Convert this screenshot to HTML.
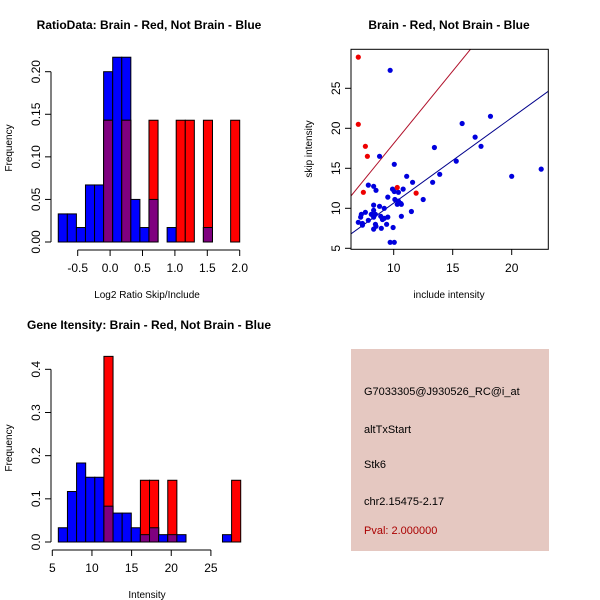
<!DOCTYPE html>
<html><head><meta charset="utf-8"><style>
body{margin:0;background:#fff}
svg{display:block;font-family:"Liberation Sans",sans-serif}
</style></head><body>
<svg id="s" width="600" height="600" viewBox="0 0 600 600">
<rect width="600" height="600" fill="#fff"/>
</svg>
<script>
// Panel 1: ratio histogram
const ratioStart = -0.80, ratioBinW = 0.14;
const ratioBlue = [0.033,0.033,0.017,0.067,0.067,0.20,0.217,0.217,0.05,0.017,0.05,0,0.017,0,0,0,0.017,0,0,0];
const ratioRed  = [0,0,0,0,0,0.143,0,0.143,0,0,0.143,0,0,0.143,0.143,0,0.143,0,0,0.143];
const ratioXTicks = [-0.5,0.0,0.5,1.0,1.5,2.0];
const ratioXLabels = ["-0.5","0.0","0.5","1.0","1.5","2.0"];
const ratioYTicks = [0,0.05,0.10,0.15,0.20];
const ratioYLabels = ["0.00","0.05","0.10","0.15","0.20"];
// Panel 3: intensity histogram
const intStart = 5.76, intBinW = 1.15;
const intBlue = [0.033,0.117,0.183,0.15,0.15,0.083,0.067,0.067,0.033,0.017,0.033,0.017,0.017,0.017,0,0,0,0,0.017,0];
const intRed  = [0,0,0,0,0,0.43,0,0,0,0.143,0.143,0,0.143,0,0,0,0,0,0,0.143];
const intXTicks = [5,10,15,20,25];
const intXLabels = ["5","10","15","20","25"];
const intYTicks = [0,0.1,0.2,0.3,0.4];
const intYLabels = ["0.0","0.1","0.2","0.3","0.4"];
// Panel 2: scatter
const redX = [7.0,7.0,7.6,7.77,7.43,10.3,11.9];
const redY = [28.9,20.5,17.75,16.5,12.0,12.6,11.9];
const blueX = [9.7,18.2,15.8,16.9,17.4,13.45,15.3,8.8,10.05,20.0,22.5,11.1,13.9,11.6,13.3,7.85,8.3,8.5,9.9,10.05,10.4,10.8,12.5,9.5,10.1,10.4,10.6,10.3,10.65,8.3,8.8,9.2,11.5,8.3,7.6,7.26,8.1,8.45,7.2,8.3,8.9,9.5,10.65,9.05,9.2,7.85,7.0,7.35,8.45,9.4,7.35,8.5,9.95,8.95,8.3,9.7,10.05];
const blueY = [27.25,21.5,20.6,18.9,17.75,17.6,15.9,16.5,15.5,14.0,14.9,14.0,14.25,13.25,13.25,12.9,12.75,12.25,12.4,12.1,12.0,12.4,11.1,11.4,11.1,10.9,10.6,10.5,10.5,10.4,10.25,10.0,9.6,9.75,9.5,9.25,9.25,9.25,8.9,8.9,9.0,8.9,9.0,8.6,8.75,8.5,8.25,8.1,8.0,8.0,7.9,7.75,7.6,7.5,7.4,5.75,5.75];
const redSlope = 1.81, blueSlope = 1.066;
const scXTicks = [10,15,20], scYTicks = [5,10,15,20,25];

const NS="http://www.w3.org/2000/svg", S=document.getElementById('s');
function mk(tag,a,parent){const e=document.createElementNS(NS,tag);for(const k in a)e.setAttribute(k,a[k]);(parent||S).appendChild(e);return e;}
function txt(x,y,t,a,parent){const e=mk('text',Object.assign({x:x,y:y,'font-size':12,'text-anchor':'middle',fill:'#000'},a||{}),parent);e.textContent=t;return e;}

function hist(o){
  const g=mk('g',{});
  
  
  const X=v=>o.x0+(v-o.xa)*o.xs, Y=v=>o.y0-v*o.ys;
  const t=txt(o.titleX,o.titleY,o.title,{'font-weight':'bold','font-size':12},g);
  
  
  for(let i=0;i<o.blue.length;i++){
    const l=X(o.start+i*o.bw), r=X(o.start+(i+1)*o.bw);
    const b=o.blue[i], rd=o.red[i];
    if(b>0){const e=mk('rect',{x:l,y:Y(b),width:r-l,height:Y(0)-Y(b),fill:'#0000ff',stroke:'#000','stroke-width':1},g);
      
      }
    if(rd>0){const e=mk('rect',{x:l,y:Y(rd),width:r-l,height:Y(0)-Y(rd),fill:'#ff0000',stroke:'#000','stroke-width':1},g);
      
      }
    const m=Math.min(b,rd);
    if(m>0){const e=mk('rect',{x:l,y:Y(m),width:r-l,height:Y(0)-Y(m),fill:'#7f007f',stroke:'#000','stroke-width':1},g);
      
      }
  }
  const ya=mk('g',{},g);
  
  
  mk('line',{x1:o.yax,x2:o.yax,y1:Y(o.yt[0]),y2:Y(o.yt[o.yt.length-1]),stroke:'#000'},ya);
  o.yt.forEach((v,i)=>{mk('line',{x1:o.yax-6,x2:o.yax,y1:Y(v),y2:Y(v),stroke:'#000'},ya);
    txt(0,0,o.yl[i],{transform:`translate(${o.yax-11},${Y(v)}) rotate(-90)`},ya);});
  const yt=txt(0,0,'Frequency',{'font-size':10,transform:`translate(12,${o.ymid}) rotate(-90)`},g);
  
  
  const xa=mk('g',{},g);
  
  
  mk('line',{x1:X(o.xt[0]),x2:X(o.xt[o.xt.length-1]),y1:o.xay,y2:o.xay,stroke:'#000'},xa);
  o.xt.forEach((v,i)=>{mk('line',{x1:X(v),x2:X(v),y1:o.xay,y2:o.xay+6,stroke:'#000'},xa);
    txt(X(v),o.xay+22,o.xl[i],{},xa);});
  const xt=txt(o.titleX-2,o.xay+48,o.xtitle,{'font-size':10},g);
  
  
  return g;
}
hist({name:'ratio-histogram',title:'RatioData: Brain - Red, Not Brain - Blue',titleX:149,titleY:29,xtitle:'Log2 Ratio Skip/Include',
  start:ratioStart,bw:ratioBinW,blue:ratioBlue,red:ratioRed,x0:77.7,xa:-0.5,xs:64.8,y0:242,ys:851.5,
  yt:ratioYTicks,yl:ratioYLabels,xt:ratioXTicks,xl:ratioXLabels,yax:51,xay:250,ymid:148});
hist({name:'intensity-histogram',title:'Gene Itensity: Brain - Red, Not Brain - Blue',titleX:149,titleY:329,xtitle:'Intensity',
  start:intStart,bw:intBinW,blue:intBlue,red:intRed,x0:52.3,xa:5,xs:7.93,y0:542,ys:431.7,
  yt:intYTicks,yl:intYLabels,xt:intXTicks,xl:intXLabels,yax:51,xay:550,ymid:448});

(function(){
  const g=mk('g',{});
  
  
  const X=v=>393.7+(v-10)*11.8, Y=v=>248.3-(v-5)*8;
  const t=txt(449,29,'Brain - Red, Not Brain - Blue',{'font-weight':'bold','font-size':12},g);
  
  
  const cp=mk('clipPath',{id:'cp'},g);mk('rect',{x:351,y:49.3,width:197.3,height:200},cp);
  const lg=mk('g',{'clip-path':'url(#cp)'},g);
  const xa0=6.2,xa1=23.3;
  const rl=mk('line',{x1:X(xa0),y1:Y(redSlope*xa0),x2:X(xa1),y2:Y(redSlope*xa1),stroke:'#b0102a','stroke-width':1},lg);
  
  
  const bl=mk('line',{x1:X(xa0),y1:Y(blueSlope*xa0),x2:X(xa1),y2:Y(blueSlope*xa1),stroke:'#00008b','stroke-width':1},lg);
  
  
  blueX.forEach((v,i)=>{const c=mk('circle',{cx:X(v),cy:Y(blueY[i]),r:2.6,fill:'#0000dd'},g);
    
    });
  redX.forEach((v,i)=>{const c=mk('circle',{cx:X(v),cy:Y(redY[i]),r:2.6,fill:'#ee0000'},g);
    
    });
  const fr=mk('rect',{x:351,y:49.3,width:197.3,height:200,fill:'none',stroke:'#000'},g);
  
  
  scXTicks.forEach(v=>{mk('line',{x1:X(v),x2:X(v),y1:249.3,y2:255,stroke:'#000'},g);txt(X(v),272,String(v),{},g);});
  scYTicks.forEach(v=>{mk('line',{x1:345,x2:351,y1:Y(v),y2:Y(v),stroke:'#000'},g);txt(0,0,String(v),{transform:`translate(340,${Y(v)}) rotate(-90)`},g);});
  const xt=txt(449,298,'include intensity',{'font-size':10},g);
  
  
  const yt=txt(0,0,'skip intensity',{'font-size':10,transform:'translate(312,149) rotate(-90)'},g);
  
  
})();
</script>
<div style="position:absolute;left:351px;top:349px;width:198px;height:202px;background:#e5c8c1;font-family:'Liberation Sans',sans-serif;font-size:11px;color:#000">
<div style="position:absolute;left:13px;top:37px">G7033305@J930526_RC@i_at</div>
<div style="position:absolute;left:13px;top:75px">altTxStart</div>
<div style="position:absolute;left:13px;top:110px">Stk6</div>
<div style="position:absolute;left:13px;top:147px">chr2.15475-2.17</div>
<div style="position:absolute;left:13px;top:176px;color:#aa0000">Pval: 2.000000</div>
</div>
</body></html>
